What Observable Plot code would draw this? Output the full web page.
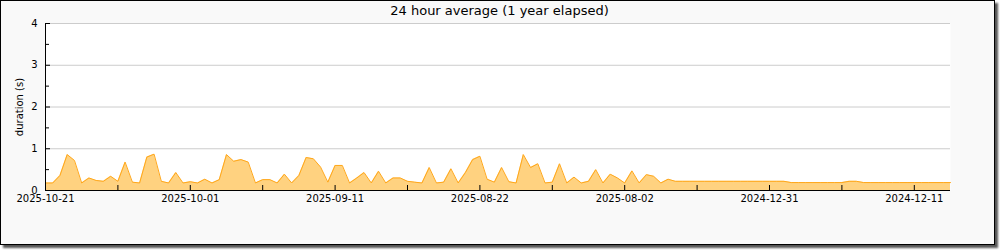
<!DOCTYPE html>
<html>
<head>
<meta charset="utf-8">
<script src="https://cdn.jsdelivr.net/npm/d3@7"></script>
<script src="https://cdn.jsdelivr.net/npm/@observablehq/plot@0.6"></script>
<style>
  body { margin: 0; background: #ffffff; }
  #wrap { position: relative; width: 1000px; height: 250px; }
  #box { position: absolute; left: 0; top: 0; width: 995px; height: 245px; box-sizing: border-box;
         border: 1px solid #000; background: #f9f9f9; box-shadow: 3px 3px 2px #555; }
  #chart { position: absolute; left: 0; top: 0; }
</style>
</head>
<body>
<div id="wrap"><div id="box"></div><div id="chart"></div></div>
<script>
const title = "24 hour average (1 year elapsed)";
const yLabel = "duration (s)";
const values = [
  0.18, 0.18, 0.36, 0.86, 0.72, 0.18, 0.30, 0.24, 0.22, 0.34,
  0.22, 0.68, 0.20, 0.18, 0.80, 0.87, 0.22, 0.18, 0.43, 0.18,
  0.21, 0.18, 0.27, 0.18, 0.26, 0.86, 0.70, 0.74, 0.68, 0.18,
  0.26, 0.26, 0.18, 0.39, 0.18, 0.36, 0.79, 0.76, 0.56, 0.20,
  0.60, 0.60, 0.18, 0.30, 0.43, 0.18, 0.46, 0.18, 0.30, 0.30,
  0.22, 0.20, 0.18, 0.55, 0.18, 0.20, 0.52, 0.18, 0.43, 0.74,
  0.82, 0.27, 0.20, 0.55, 0.21, 0.18, 0.86, 0.55, 0.64, 0.18,
  0.20, 0.64, 0.18, 0.32, 0.18, 0.22, 0.50, 0.18, 0.39, 0.30,
  0.18, 0.47, 0.18, 0.38, 0.34, 0.18, 0.27, 0.22, 0.22, 0.22,
  0.22, 0.22, 0.22, 0.22, 0.22, 0.22, 0.22, 0.22, 0.22, 0.22,
  0.22, 0.22, 0.22, 0.19, 0.19, 0.19, 0.19, 0.19, 0.19, 0.19,
  0.19, 0.22, 0.22, 0.19, 0.19, 0.19, 0.19, 0.19, 0.19, 0.19,
  0.19, 0.19, 0.19, 0.19, 0.19, 0.19
];
const xLabels = ["2025-10-21", "2025-10-01", "2025-09-11", "2025-08-22", "2025-08-02", "2024-12-31", "2024-12-11"];
const xLabelIdx = [0, 20, 40, 60, 80, 100, 120];
const xTickIdx = [0, 10, 20, 30, 40, 50, 60, 70, 80, 90, 100, 110, 120];
const yTicks = [0, 1, 2, 3, 4];
const yGrid = [1, 2, 3, 4];
const yMinor = [0.5, 1.5, 2.5, 3.5];

const data = values.map((v, i) => ({i, v}));

const chart = Plot.plot({
  width: 1000,
  height: 250,
  marginLeft: 45,
  marginRight: 50,
  marginTop: 23,
  marginBottom: 60,
  x: {type: "linear", domain: [0, values.length - 1], axis: null},
  y: {type: "linear", domain: [0, 4], axis: null},
  style: {background: "transparent", fontFamily: "DejaVu Sans", color: "black", overflow: "visible"},
  marks: [
    Plot.frame({fill: "white", stroke: null}),
    Plot.ruleY(yGrid, {stroke: "#cccccc", strokeOpacity: 1}),
    Plot.areaY(data, {x: "i", y: "v", fill: "#ffd280", fillOpacity: 1}),
    Plot.lineY(data, {x: "i", y: "v", stroke: "#ffa71a", strokeWidth: 1}),
    Plot.ruleX([0], {stroke: "black"}),
    Plot.ruleY([0], {stroke: "black"}),
    Plot.tickY(yGrid, {y: d => d, insetRight: 900, stroke: "black"}),
    Plot.tickY(yMinor, {y: d => d, insetRight: 901, stroke: "black"}),
    Plot.tickX(xTickIdx, {x: d => d, insetTop: 162, stroke: "black"}),
    Plot.text(yTicks, {y: d => d, text: d => String(d), frameAnchor: "left", dx: -8, textAnchor: "end", fontSize: 10, fill: "black"}),
    Plot.text(xLabels, {x: (d, i) => xLabelIdx[i], text: d => d, frameAnchor: "bottom", dy: 8.5, lineAnchor: "middle", textAnchor: "middle", fontSize: 10, fill: "black"}),
    Plot.text([yLabel], {text: d => d, frameAnchor: "left", rotate: -90, dx: -26, dy: 0, textAnchor: "middle", lineAnchor: "middle", fontSize: 10, fill: "black"}),
    Plot.text([title], {text: d => d, frameAnchor: "top", dx: 1.5, dy: -12.5, lineAnchor: "middle", textAnchor: "middle", fontSize: 13, fill: "black"})
  ]
});
document.getElementById("chart").appendChild(chart);
</script>
</body>
</html>
